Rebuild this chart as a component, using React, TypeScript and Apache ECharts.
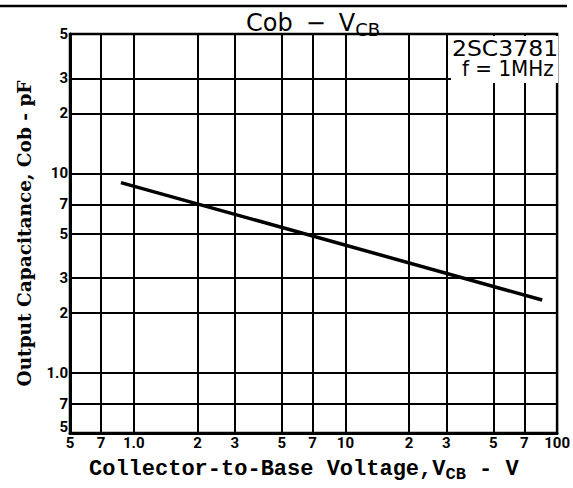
import React, { useEffect, useRef } from "react";
import * as echarts from "echarts";

// Tick values and their printed labels (log-log chart sheet)
const xTickValues = [0.5, 0.7, 1, 2, 3, 5, 7, 10, 20, 30, 50, 70, 100];
const xTickLabels = ["5", "7", "1.0", "2", "3", "5", "7", "10", "2", "3", "5", "7", "100"];
const yTickValues = [0.5, 0.7, 1, 2, 3, 5, 7, 10, 20, 30, 50];
const yTickLabels = ["5", "7", "1.0", "2", "3", "5", "7", "10", "2", "3", "5"];

// Cob – VCB curve (straight line on log-log paper)
const vcbValues = [0.87, 85];
const cobValues = [9.0, 2.32];

const chartTitle = "Cob";
const partNumber = "2SC3781";
const condition = "f = 1MHz";
const yTitle = "Output Capacitance, Cob - pF";

function indexOfTick(values: number[], v: number) {
  return values.findIndex((t) => Math.abs(Math.log10(t) - Math.log10(v)) < 1e-6);
}

export default function App() {
  const ref = useRef<HTMLDivElement>(null);
  useEffect(() => {
    if (!ref.current) return;
    const chart = echarts.init(ref.current, undefined, { renderer: "svg" });
    const tickFont = {
      color: "#000",
      fontFamily: "Roboto",
      fontWeight: "bold" as const,
      fontSize: 15,
    };
    chart.setOption({
      animation: false,
      backgroundColor: "#fff",
      grid: {
        left: 70,
        right: 13,
        top: 34,
        bottom: 55,
        show: true,
        borderColor: "#000",
        borderWidth: 2.5,
        backgroundColor: "transparent",
      },
      xAxis: {
        type: "log",
        logBase: 10,
        min: 0.5,
        max: 100,
        axisLine: { show: true, lineStyle: { color: "#000", width: 3 } },
        axisTick: { show: false, customValues: xTickValues },
        splitLine: { show: true, lineStyle: { color: "#000", width: 2 } },
        axisLabel: {
          ...tickFont,
          margin: 2,
          customValues: xTickValues,
          formatter: (v: number) => {
            const i = indexOfTick(xTickValues, v);
            return i >= 0 ? xTickLabels[i] : "";
          },
        },
      },
      yAxis: {
        type: "log",
        logBase: 10,
        min: 0.5,
        max: 50,
        name: yTitle,
        nameLocation: "middle",
        nameGap: 36,
        nameTextStyle: {
          color: "#000",
          fontFamily: "DejaVu Serif",
          fontWeight: "bold",
          fontSize: 18.5,
        },
        axisLine: { show: true, lineStyle: { color: "#000", width: 3 } },
        axisTick: { show: false, customValues: yTickValues },
        splitLine: { show: true, lineStyle: { color: "#000", width: 2 } },
        axisLabel: {
          ...tickFont,
          margin: 2,
          customValues: yTickValues,
          formatter: (v: number) => {
            const i = indexOfTick(yTickValues, v);
            if (i < 0) return "";
            return i === 0 ? `{low|${yTickLabels[i]}}` : yTickLabels[i];
          },
          rich: {
            low: { ...tickFont, padding: [0, 0, 12, 0] },
          },
        },
      },
      series: [
        {
          type: "line",
          data: vcbValues.map((v, i) => [v, cobValues[i]]),
          showSymbol: false,
          symbol: "none",
          lineStyle: { color: "#000", width: 3.5 },
          z: 5,
        },
      ],
      graphic: [
        {
          type: "line",
          shape: { x1: 0, y1: 6, x2: 567, y2: 6 },
          style: { stroke: "#000", lineWidth: 2.5 },
          z: 10,
        },
        {
          type: "text",
          x: 246,
          y: 23,
          z: 10,
          style: {
            text: `{m|${chartTitle}}{d|−}{m|V}{s|CB}`,
            align: "left",
            verticalAlign: "middle",
            fill: "#000",
            rich: {
              m: { fontFamily: "DejaVu Sans", fontSize: 24, fill: "#000" },
              d: { fontFamily: "DejaVu Sans", fontSize: 24, fill: "#000", padding: [0, 13, 0, 13] },
              s: { fontFamily: "DejaVu Sans", fontSize: 18, fill: "#000", padding: [12, 0, 0, 0] },
            },
          },
        },
        {
          type: "rect",
          shape: { x: 451, y: 36, width: 107, height: 47 },
          style: { fill: "#fff" },
          z: 10,
        },
        {
          type: "text",
          x: 452,
          y: 48,
          scaleX: 1.12,
          z: 11,
          style: {
            text: partNumber,
            align: "left",
            verticalAlign: "middle",
            fill: "#000",
            fontFamily: "DejaVu Sans",
            fontSize: 21,
          },
        },
        {
          type: "text",
          x: 462,
          y: 69,
          scaleX: 0.95,
          z: 11,
          style: {
            text: condition,
            align: "left",
            verticalAlign: "middle",
            fill: "#000",
            fontFamily: "DejaVu Sans",
            fontSize: 21,
          },
        },
        {
          type: "text",
          x: 89,
          y: 469,
          z: 10,
          style: {
            text: "{m|Collector-to-Base Voltage,V}{s|CB}{m| - V}",
            align: "left",
            verticalAlign: "middle",
            fill: "#000",
            rich: {
              m: { fontFamily: "Liberation Mono", fontWeight: "bold", fontSize: 22, fill: "#000" },
              s: {
                fontFamily: "Liberation Mono",
                fontWeight: "bold",
                fontSize: 17,
                fill: "#000",
                padding: [10, 0, 0, 0],
              },
            },
          },
        },
      ],
    });
    return () => chart.dispose();
  }, []);
  return (
    <div
      ref={ref}
      style={{ position: "fixed", left: 0, top: 0, width: 573, height: 488, background: "#fff" }}
    />
  );
}
